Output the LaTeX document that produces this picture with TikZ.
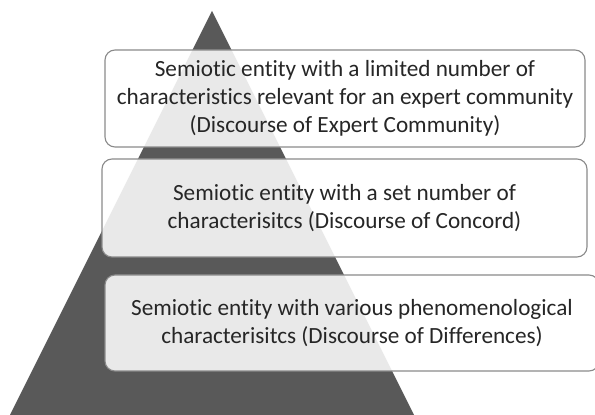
\documentclass[tikz,border=0pt]{standalone}
\usepackage{fontspec}
\setmainfont{Carlito}[Ligatures=NoCommon]
\usepackage{tikz}
\definecolor{pyramidgray}{HTML}{595959}
\definecolor{framegray}{HTML}{8A8A8A}
\definecolor{textgray}{HTML}{262626}
\tikzset{
	level/.style={draw=framegray, line width=1.1pt, rounded corners=10pt, fill=white, fill opacity=0.87, text opacity=1, text=textgray, align=center, font=\fontsize{23.2}{27.7}\selectfont, inner sep=0pt}
}

\begin{document}
\begin{tikzpicture}[x=1pt, y=1pt]
			%%%%% START %%%%%
			
			\useasboundingbox (0, 0) rectangle (595, 415);
			\clip (0, 0) rectangle (595, 415);
			
			\fill[pyramidgray] (212, 404) coordinate (apex) -- (10, 0) coordinate (baseleft) -- (414, 0) coordinate (baseright) -- cycle;
			
			\node[level, minimum width=480pt, minimum height=97pt] (expert) at (345, 316.5) {Semiotic entity with a limited number of\\characteristics relevant for an expert community\\(Discourse of Expert Community)};
			
			\node[level, minimum width=485pt, minimum height=98pt] (concord) at (344.5, 207) {Semiotic entity with a set number of\\characterisitcs (Discourse of Concord)};
			
			\node[level, minimum width=494pt, minimum height=96pt] (differences) at (352, 92) {Semiotic entity with various phenomenological\\characterisitcs (Discourse of Differences)};
			
			%%%%% END %%%%%
		\end{tikzpicture}
\end{document}
